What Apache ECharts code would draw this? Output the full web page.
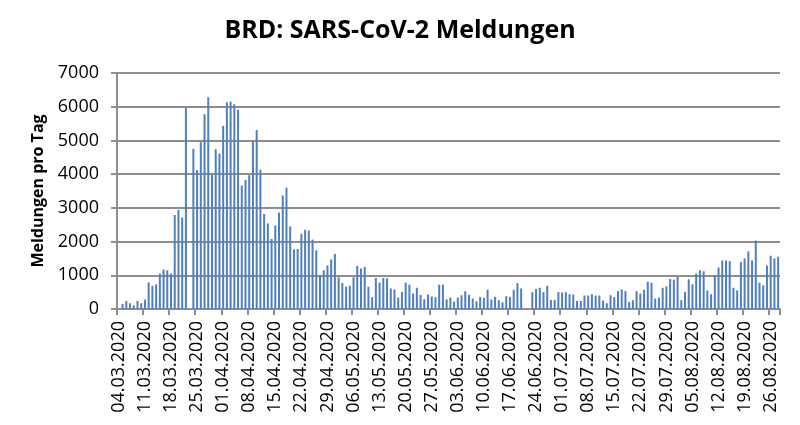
<!DOCTYPE html>
<html>
<head>
<meta charset="utf-8">
<script src="https://cdn.jsdelivr.net/npm/echarts@6/dist/echarts.min.js"></script>
<style>
html,body{margin:0;padding:0;background:#fff;}
#c{width:800px;height:425px;}
</style>
</head>
<body>
<div id="c"></div>
<script>
// Category axis: one bar per day, 04.03.2020 to 28.08.2020
const startDate = [2020, 3, 4];
const dayCount = 178;
// Daily reported cases (null = no bar)
const meldungen = [
  null, 150, 240, 170, 110, 240, 170, 280, 790, 690,
  730, 1050, 1170, 1150, 1050, 2790, 2940, 2710, 5960, null,
  4750, 4120, 4950, 5780, 6280, 3980, 4740, 4610, 5430, 6130,
  6150, 6070, 5910, 3660, 3830, 3970, 4980, 5310, 4130, 2820,
  2540, 2080, 2480, 2860, 3370, 3600, 2450, 1770, 1780, 2230,
  2350, 2330, 2060, 1740, 1000, 1150, 1290, 1470, 1630, 940,
  770, 660, 690, 940, 1280, 1200, 1250, 660, 350, 920,
  780, 920, 910, 610, 580, 340, 500, 780, 720, 460,
  630, 420, 290, 430, 370, 350, 720, 720, 290, 340,
  220, 340, 410, 530, 420, 310, 230, 360, 330, 570,
  280, 360, 260, 200, 380, 360, 570, 770, 610, null,
  null, 500, 590, 630, 500, 690, 270, 270, 500, 490,
  500, 440, 430, 240, 240, 400, 400, 440, 400, 400,
  250, 170, 410, 350, 530, 580, 530, 210, 260, 530,
  460, 570, 810, 780, 310, 340, 630, 670, 890, 870,
  950, 260, 510, 880, 730, 1050, 1150, 1120, 550, 440,
  990, 1230, 1440, 1440, 1420, 630, 550, 1390, 1500, 1710,
  1440, 2030, 780, 700, 1290, 1580, 1500, 1550
];
const titleText = 'BRD: SARS-CoV-2 Meldungen';
const yAxisName = 'Meldungen pro Tag';
const yMax = 7000;
const yStep = 1000;

function pad(n){ return (n < 10 ? '0' : '') + n; }
const categories = [];
for (let i = 0; i < dayCount; i++) {
  const d = new Date(Date.UTC(startDate[0], startDate[1] - 1, startDate[2] + i));
  categories.push(pad(d.getUTCDate()) + '.' + pad(d.getUTCMonth() + 1) + '.' + d.getUTCFullYear());
}

const FONT = '"Open Sans", "Liberation Sans", sans-serif';
const GRAY = '#8e8e8e';
const chart = echarts.init(document.getElementById('c'), null, {renderer: 'canvas'});
chart.setOption({
  animation: false,
  backgroundColor: '#ffffff',
  title: {
    text: titleText,
    left: 'center',
    top: 13,
    textStyle: {fontFamily: FONT, fontWeight: 'bold', fontSize: 25, color: '#000'}
  },
  grid: {left: 117, right: 20, top: 73, bottom: 116, containLabel: false},
  xAxis: {
    type: 'category',
    data: categories,
    boundaryGap: true,
    axisLine: {show: true, lineStyle: {color: GRAY, width: 2}},
    axisTick: {show: true, interval: 6, length: 6, lineStyle: {color: GRAY, width: 2}},
    axisLabel: {
      interval: 6, rotate: 90, margin: 12,
      fontFamily: FONT, fontSize: 18, color: '#000'
    },
    splitLine: {show: false}
  },
  yAxis: {
    type: 'value',
    min: 0, max: yMax, interval: yStep,
    name: yAxisName,
    nameLocation: 'middle',
    nameGap: 70,
    nameRotate: 90,
    nameTextStyle: {fontFamily: FONT, fontWeight: 'bold', fontSize: 16, color: '#000'},
    axisLine: {show: true, lineStyle: {color: GRAY, width: 2}},
    axisTick: {show: true, length: 6, lineStyle: {color: GRAY, width: 2}},
    axisLabel: {margin: 18, fontFamily: FONT, fontSize: 18, color: '#000',
      formatter: function (v) { return String(v); }},
    splitLine: {show: true, lineStyle: {color: GRAY, width: 2}}
  },
  series: [{
    type: 'bar',
    data: meldungen,
    barWidth: 2,
    itemStyle: {color: '#4f7fbf'}
  }]
});
</script>
</body>
</html>
